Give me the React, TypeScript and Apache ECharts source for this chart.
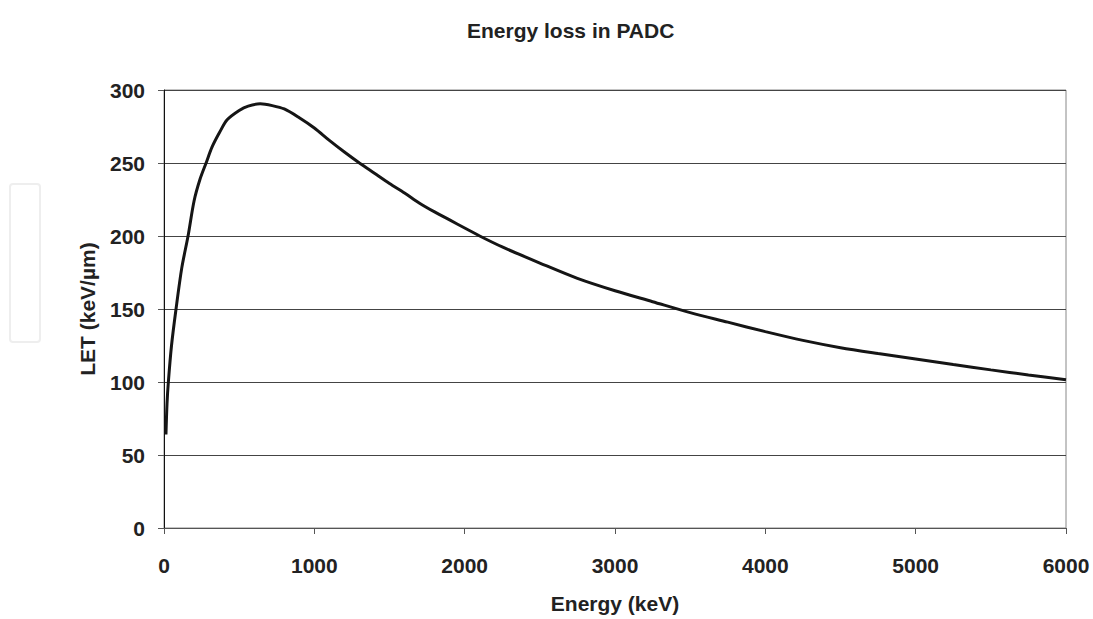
import React, { useEffect, useRef } from "react";
import * as echarts from "echarts";

const energy = [13, 20, 29, 50, 80, 118, 160, 200, 240, 280, 320, 370, 420, 500, 560, 640, 720, 800, 900, 1000, 1100, 1200, 1300, 1400, 1500, 1600, 1700, 1800, 1900, 2000, 2100, 2250, 2500, 2750, 3000, 3250, 3500, 3750, 4000, 4250, 4500, 4750, 5000, 5250, 5500, 5750, 6000];
const letValues = [64, 85, 100, 125, 150, 178, 200, 224, 239, 250, 261, 271, 279.6, 286, 289, 290.5, 289.3, 287, 281, 274, 265.5, 257.5, 250, 243, 236, 229.5, 222.5, 216.5, 211, 205.5, 200, 192.5, 181.5, 171, 162.5, 155, 147.5, 141, 134.5, 128.5, 123.5, 119.5, 115.8, 112, 108.3, 104.8, 101.5];

const titleText = "Energy loss in PADC";
const xName = "Energy (keV)";
const yName = "LET (keV/µm)";

export default function App() {
  const ref = useRef<HTMLDivElement>(null);
  useEffect(() => {
    if (!ref.current) return;
    const chart = echarts.init(ref.current, null, { renderer: "svg" });
    const font = "'Liberation Sans', Arial, sans-serif";
    chart.setOption({
      animation: false,
      backgroundColor: "#fff",
      title: {
        text: titleText,
        left: 462,
        top: 15,
        textStyle: { fontFamily: font, fontSize: 21, fontWeight: "bold", color: "#222" },
      },
      grid: {
        left: 164,
        right: 27,
        top: 90,
        bottom: 88,
        show: true,
        borderColor: "#888",
        borderWidth: 1,
        backgroundColor: "transparent",
      },
      graphic: [
        {
          type: "rect",
          shape: { x: 10, y: 184, width: 30, height: 158, r: 3 },
          style: { fill: "transparent", stroke: "#eeeeee", lineWidth: 2 },
        },
      ],
      xAxis: {
        type: "value",
        min: 0,
        max: 6000,
        interval: 1000,
        name: xName,
        nameLocation: "middle",
        nameGap: 65,
        nameTextStyle: { fontFamily: font, fontSize: 21, fontWeight: "bold", color: "#222" },
        axisLine: { show: true, lineStyle: { color: "#555", width: 1 } },
        axisTick: { show: true, length: 6, lineStyle: { color: "#555" } },
        axisLabel: {
          margin: 27,
          fontFamily: font,
          fontSize: 21,
          fontWeight: "bold",
          color: "#222",
          formatter: (v: number) => String(v),
        },
        splitLine: { show: false },
      },
      yAxis: {
        type: "value",
        min: 0,
        max: 300,
        interval: 50,
        name: yName,
        nameLocation: "middle",
        nameGap: 66,
        nameTextStyle: { fontFamily: font, fontSize: 21, fontWeight: "bold", color: "#222" },
        axisLine: { show: true, lineStyle: { color: "#111", width: 1 } },
        axisTick: { show: true, length: 6, lineStyle: { color: "#555" } },
        axisLabel: { margin: 19, fontFamily: font, fontSize: 21, fontWeight: "bold", color: "#222" },
        splitLine: { show: true, lineStyle: { color: "#444", width: 1 } },
      },
      series: [
        {
          type: "line",
          data: energy.map((e, i) => [e, letValues[i]]),
          smooth: 0.3,
          showSymbol: false,
          lineStyle: { color: "#151515", width: 3 },
        },
      ],
    });
    return () => chart.dispose();
  }, []);
  return <div ref={ref} style={{ width: 1093, height: 619, position: "absolute", left: 0, top: 0 }} />;
}
